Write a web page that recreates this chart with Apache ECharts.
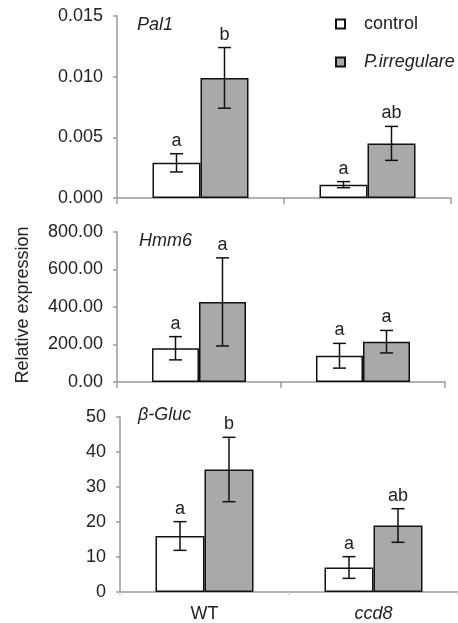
<!DOCTYPE html>
<html><head><meta charset="utf-8">
<script src="https://cdn.jsdelivr.net/npm/echarts@6/dist/echarts.min.js"></script>
<style>html,body{margin:0;padding:0;background:#fff}#c{width:458px;height:623px}</style>
</head><body><div id="c"></div>
<script>
var categories = ['WT', 'ccd8'];
var seriesNames = ['control', 'P.irregulare'];

var pal1Control = [0.0029, 0.0011];
var pal1ControlErr = [0.00075, 0.00025];
var pal1Treat = [0.0099, 0.0045];
var pal1TreatErr = [0.0025, 0.0014];
var pal1ControlLetters = ['a', 'a'];
var pal1TreatLetters = ['b', 'ab'];

var hmm6Control = [180, 140];
var hmm6ControlErr = [62, 66];
var hmm6Treat = [427, 215];
var hmm6TreatErr = [235, 60];
var hmm6ControlLetters = ['a', 'a'];
var hmm6TreatLetters = ['a', 'a'];

var glucControl = [16, 7];
var glucControlErr = [4.1, 3.1];
var glucTreat = [35, 19];
var glucTreatErr = [9.2, 4.8];
var glucControlLetters = ['a', 'a'];
var glucTreatLetters = ['b', 'ab'];

var panelTitles = ['Pal1', 'Hmm6', 'β-Gluc'];
var yMax = [0.015, 800, 50];
var yInterval = [0.005, 200, 10];
var yDecimals = [3, 2, 0];

var FONT = 'Liberation Sans, Arial, sans-serif';
var FS = 18;
var TXT = '#222222';
var AX = '#9a9a9a';

var panels = [
  {ctrl: pal1Control, ctrlErr: pal1ControlErr, trt: pal1Treat, trtErr: pal1TreatErr, cl: pal1ControlLetters, tl: pal1TreatLetters},
  {ctrl: hmm6Control, ctrlErr: hmm6ControlErr, trt: hmm6Treat, trtErr: hmm6TreatErr, cl: hmm6ControlLetters, tl: hmm6TreatLetters},
  {ctrl: glucControl, ctrlErr: glucControlErr, trt: glucTreat, trtErr: glucTreatErr, cl: glucControlLetters, tl: glucTreatLetters}
];
var grids = [
  {left: 117, top: 16, height: 182, width: 334},
  {left: 117, top: 232, height: 150, width: 328},
  {left: 120, top: 417, height: 176, width: 338}
];
var barW = [48, 47, 49];

var option = {
  animation: false,
  backgroundColor: '#fff',
  textStyle: {fontFamily: FONT},
  grid: grids,
  legend: {
    data: seriesNames,
    orient: 'vertical',
    left: 330, top: 10,
    itemWidth: 9, itemHeight: 9, itemGap: 20,
    icon: 'rect',
    formatter: function (n) { return n === 'control' ? '{n|' + n + '}' : '{i|' + n + '}'; },
    textStyle: {
      color: TXT, fontSize: FS, fontFamily: FONT, padding: [0, 0, 0, 14],
      rich: {n: {fontSize: FS, color: TXT, fontFamily: FONT}, i: {fontSize: FS, color: TXT, fontStyle: 'italic', fontFamily: FONT}}
    }
  },
  xAxis: [], yAxis: [], series: [],
  graphic: []
};

panels.forEach(function (p, k) {
  option.xAxis.push({
    type: 'category', gridIndex: k, data: categories,
    axisLine: {lineStyle: {color: AX, width: 1.5}},
    axisTick: {show: true, length: k === 2 ? 3 : 6, lineStyle: {color: k === 2 ? '#cfcfcf' : AX, width: 1.5}},
    axisLabel: {
      show: k === 2, margin: 13, fontSize: FS, color: TXT,
      formatter: function (v) { return v === 'ccd8' ? '{i|' + v + '}' : v; },
      rich: {i: {fontStyle: 'italic', fontSize: FS, color: TXT}}
    }
  });
  option.yAxis.push({
    type: 'value', gridIndex: k, min: 0, max: yMax[k], interval: yInterval[k],
    splitLine: {show: false},
    axisLine: {show: true, lineStyle: {color: AX, width: 1.5}},
    axisTick: {show: true, length: 4, lineStyle: {color: AX, width: 1.5}},
    axisLabel: {
      fontSize: FS, color: TXT, margin: 14,
      formatter: function (v) { return v.toFixed(yDecimals[k]); }
    }
  });
  var bw = barW[k];
  option.series.push({
    name: seriesNames[0], type: 'bar', xAxisIndex: k, yAxisIndex: k,
    data: p.ctrl, barWidth: bw, barGap: '0%',
    itemStyle: {color: '#ffffff', borderColor: '#111', borderWidth: 1.5}
  });
  option.series.push({
    name: seriesNames[1], type: 'bar', xAxisIndex: k, yAxisIndex: k,
    data: p.trt, barWidth: bw, barGap: '0%',
    itemStyle: {color: '#a9a9a9', borderColor: '#111', borderWidth: 1.5}
  });
  var errData = [];
  for (var i = 0; i < categories.length; i++) {
    errData.push([i, p.ctrl[i], p.ctrlErr[i], -1, p.cl[i]]);
    errData.push([i, p.trt[i], p.trtErr[i], 1, p.tl[i]]);
  }
  option.series.push({
    type: 'custom', xAxisIndex: k, yAxisIndex: k, z: 10,
    data: errData,
    renderItem: function (params, api) {
      var ci = api.value(0), v = api.value(1), e = api.value(2), side = api.value(3);
      var letter = errData[params.dataIndex][4];
      var hi = api.coord([ci, v + e]);
      var lo = api.coord([ci, v - e]);
      var x = hi[0] + side * bw / 2;
      var cap = 6.5;
      var st = {stroke: '#111', lineWidth: 1.5};
      return {
        type: 'group',
        children: [
          {type: 'line', shape: {x1: x, y1: hi[1], x2: x, y2: lo[1]}, style: st},
          {type: 'line', shape: {x1: x - cap, y1: hi[1], x2: x + cap, y2: hi[1]}, style: st},
          {type: 'line', shape: {x1: x - cap, y1: lo[1], x2: x + cap, y2: lo[1]}, style: st},
          {type: 'text', style: {text: letter, x: x, y: hi[1] - 13, align: 'center', verticalAlign: 'middle', fontSize: FS, fill: TXT, fontFamily: FONT}}
        ]
      };
    }
  });
});

option.graphic = [
  {type: 'text', left: 137, top: 16, style: {text: panelTitles[0], fontSize: FS, fontStyle: 'italic', fill: TXT, fontFamily: FONT}},
  {type: 'text', left: 139, top: 232, style: {text: panelTitles[1], fontSize: FS, fontStyle: 'italic', fill: TXT, fontFamily: FONT}},
  {type: 'text', left: 138, top: 406, style: {text: panelTitles[2], fontSize: FS, fontStyle: 'italic', fill: TXT, fontFamily: FONT}},
  {type: 'text', x: 23, y: 305, rotation: Math.PI / 2, style: {text: 'Relative expression', fontSize: FS, fill: TXT, fontFamily: FONT, align: 'center', verticalAlign: 'middle'}}
];

var chart = echarts.init(document.getElementById('c'), null, {renderer: 'canvas'});
chart.setOption(option);
</script>
</body></html>
